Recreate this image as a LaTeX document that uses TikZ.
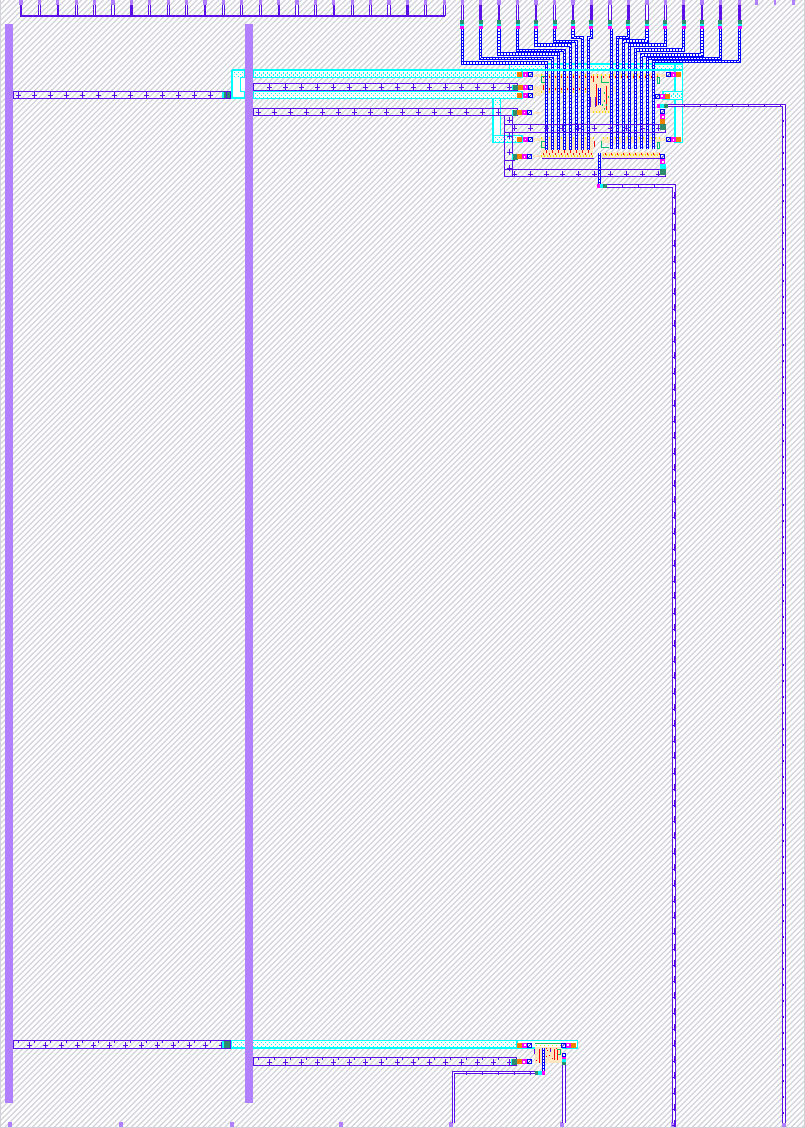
\documentclass[tikz,border=0pt]{standalone}
\definecolor{pd}{HTML}{5A10E6}
\definecolor{pl}{HTML}{B080FF}
\definecolor{hb}{HTML}{D2D2DA}
\definecolor{cr}{HTML}{FDE6C2}
\definecolor{tl}{HTML}{2E8B6B}
\definecolor{og}{HTML}{F08000}
\definecolor{gr}{HTML}{00C070}
\definecolor{yl}{HTML}{F4E000}
\definecolor{cyan}{RGB}{0,255,255}
\definecolor{magenta}{RGB}{255,0,255}
\tikzset{
  hatch/.style={draw=hb,line width=1.25},
  strip/.style={draw=pd,line width=1},
  dbl/.style={draw=pd,line width=1,double=white,double distance=1.3},
  tick/.style={draw=pd,line width=1}
}
\newcommand\lad[1]{\draw[blue,line width=3.4] #1; \draw[white,line width=1.4,dash pattern=on 2 off 1] #1;}
\newcommand\sq[5]{\fill[#1] (#2,#3) rectangle (#4,#5);}
% dotted cyan region: x1 y1 x2 y2
\newcommand\dotband[4]{%
  \fill[white] (#1,#2) rectangle (#3,#4);
  \begin{scope}
    \clip (#1,#2) rectangle (#3,#4);
    \pgfmathsetmacro\ya{#2+1.6}\pgfmathsetmacro\yb{#2+3.6}\pgfmathsetmacro\yc{#2+5.4}
    \pgfmathsetmacro\xa{#1+1.5}\pgfmathsetmacro\xb{#1+5.5}\pgfmathsetmacro\xc{#1+3.5}\pgfmathsetmacro\xd{#1+7.5}
    \foreach \q in {\xa,\xb,...,#3}{\fill[cyan] (\q,\ya) rectangle (\q+1.2,\ya+1.2);\fill[cyan] (\q,\yc) rectangle (\q+1.2,\yc+1.2);}
    \foreach \q in {\xc,\xd,...,#3}{\fill[cyan] (\q,\yb) rectangle (\q+1.2,\yb+1.2);}
  \end{scope}
  \draw[cyan,line width=1.4] (#1,#2) rectangle (#3,#4);}
\newcommand\bxc[2]{\draw[blue,line width=1,fill=white] (#1+.5,#2+.5) rectangle (#1+4.5,#2+4.5); \draw[blue!60!black,line width=.5] (#1+1,#2+4) -- (#1+4,#2+1);}
\newcommand\mgc[2]{\fill[magenta] (#1,#2) rectangle (#1+5,#2+5); \fill[white] (#1+1.6,#2+1.6) rectangle (#1+3.4,#2+3.4);}
\newcommand\ogc[2]{\fill[og] (#1,#2) rectangle (#1+5,#2+5);}
\newcommand\tlc[2]{\fill[tl] (#1,#2) rectangle (#1+5.5,#2+5.5); \fill[cyan] (#1,#2) rectangle (#1+1.2,#2+5.5);}
\newcommand\plusv[2]{\draw[tick] (#1,#2-3.5) -- (#1,#2+3) (#1-2.5,#2) -- (#1+2.5,#2);}
\newcommand\dotrow[5]{\foreach \q in {#1,#2,...,#3}{\fill[#5] (\q,#4) rectangle (\q+1,#4+1.5);}}
\begin{document}
\begin{tikzpicture}[x=1pt,y=-1pt]
\useasboundingbox (0,0) rectangle (805,1128);
\clip (0,0) rectangle (805,1128);
\fill[white] (0,0) rectangle (805,1128);
% background hatching
\foreach \i in {0,5.5,...,1935}{\draw[hatch] (\i,-1) -- (\i-1130,1129);}
\fill[hb] (0,0) rectangle (1,1128);
\fill[hb] (804,0) rectangle (805,1128);
\fill[hb] (0,1127) rectangle (805,1128);
% pale bottom and top pads
\foreach \x in {10,121,232,341,451,562,673,784}{\sq{pl}{\x-1.7}{1122}{\x+1.7}{1127}}
\foreach \a/\b in {755/758,774/776,792/795}{\sq{pl}{\a}{0}{\b}{5}}
% cream diffusion
\sq{cr}{541}{74}{590}{93}
\sq{cr}{590}{74}{610}{113}
\sq{cr}{610}{73}{660}{79}
\sq{cr}{600}{86}{616}{92}
\sq{cr}{541}{137}{593}{158}
\sq{cr}{602}{137}{660}{143}
\sq{cr}{602}{152}{660}{158}
\foreach \a/\b in {74/77,86/96,112/114,138/141,155/157}{\sq{cr}{533}{\a}{541}{\b}}
\foreach \a/\b in {74/77,138/141}{\sq{cr}{659}{\a}{666}{\b}}
% device details
\dotrow{541}{545}{660}{74}{yl}
\dotrow{543}{549}{660}{76}{red}
\dotrow{543}{549}{590}{88}{red}
\dotrow{541}{545}{590}{91}{yl}
\dotrow{541}{545}{593}{137}{yl}
\dotrow{603}{607}{660}{137}{yl}
\dotrow{545}{551}{590}{146}{red}
\dotrow{541}{544}{593}{155}{yl}
\dotrow{603}{606}{659}{154}{yl}
\dotrow{543}{549}{593}{153}{red}
\dotrow{605}{611}{659}{153}{red}
\dotrow{593}{596}{610}{111}{yl}
\draw[gr,line width=1] (546,76) -- (541.5,76) -- (541.5,82) -- (545,82);
\draw[gr,line width=1] (546,141) -- (541.5,141) -- (541.5,147) -- (545,147);
\draw[gr,line width=1] (601.5,76) -- (601.5,82) -- (609,82);
\draw[gr,line width=1] (601.5,141) -- (601.5,147) -- (609,147);
\draw[gr,line width=1] (657.5,77) rectangle (659.5,83);
\draw[gr,line width=1] (657.5,142) rectangle (659.5,148);
\draw[red,line width=1] (593,76) -- (593,82) (596,84) -- (596,106) (606,86) -- (606,110) (543,85) -- (543,90) (594,141) -- (594,147);
\draw[magenta,line width=1] (610,77) -- (610,84) (610,141) -- (610,148);
\draw[pd,line width=1] (590.7,97) -- (590.7,107) (595,97) -- (595,107) (541.5,158.3) -- (593.5,158.3) (602.3,158.3) -- (659.5,158.3);
\foreach \x/\y in {604/92,604/100,606/104,604/108,608/96,602/104}{\sq{gr}{\x}{\y}{\x+1.2}{\y+1.5}}
% cyan bands
\dotband{232}{70.5}{245}{98}
\draw[cyan,line width=1,fill=white] (240,77) rectangle (245,91);
\dotband{253}{70.7}{522}{77.5}
\dotband{253}{91.3}{522}{98.5}
\dotband{493}{98.5}{500.7}{142.7}
\dotband{493}{135.3}{522}{142.7}
\dotband{509.3}{64}{682.7}{70.7}
\dotband{675}{64}{682.7}{142.7}
\dotband{663}{91.7}{682.7}{99.3}
\dotband{231}{1040.5}{517}{1048}
\draw[cyan,line width=1.2,fill=white] (517,1040.5) rectangle (577.3,1048);
\sq{cr}{535}{1047}{561.7}{1062.7}
% ladder wires
\foreach \px/\ly/\wx in {462.3/63/546.7,480.7/58.5/552.7,499/54/558.7,517.7/50.7/564.7,536/45/570.7,554.7/41.7/576.7,573/37.3/582.7}{\lad{(\px,29) -- (\px,\ly) -- (\wx,\ly) -- (\wx,150)}}
\lad{(591.3,29) -- (591.3,37.3) -- (588.7,37.3) -- (588.7,150)}
\lad{(611.3,29) -- (611.3,149)}
\foreach \px/\ly/\wx in {628.3/37.3/617.3,647/41/623.3,665.3/45/629.3,683.7/50/635.3,702/55/641.3,720.3/58.3/647.3,739.7/61.7/653.3}{\lad{(\px,29) -- (\px,\ly) -- (\wx,\ly) -- (\wx,149)}}
\lad{(599.5,88) -- (599.5,105.3)}
\lad{(599.5,153) -- (599.5,184)}
\foreach \a in {546.7,552.7,...,589}{\sq{red}{\a-.5}{150}{\a+.5}{152.5}}
\draw[cyan,line width=1.8] (232,70.3) -- (683,70.3);
% top pins
\foreach \x/\k in {462.3/1,480.7/0,499/0,517.7/1,536/0,554.7/1,573/0,591.3/0,610/1,628.3/0,647/1,665.3/1,683.7/0,702/0,720.3/0,739.7/0}{
  \sq{pl}{\x-1.7}{0}{\x+1.7}{5}
  \ifnum\k=1 \draw[dbl] (\x,5) -- (\x,20); \else \sq{pd}{\x-1.4}{5}{\x+1.4}{20}\fi
  \sq{tl}{\x-2}{20}{\x+2}{24}
  \sq{cyan}{\x-2}{24}{\x+2}{25.7}
  \sq{magenta}{\x-2}{25.7}{\x+2}{29}
}
% top-left comb
\foreach \i/\k in {0/0,1/1,2/0,3/1,4/1,5/1,6/0,7/1,8/1,9/1,10/0,11/1,12/1,13/1,14/0,15/1,16/1,17/0,18/1,19/1,20/1,21/0,22/1,23/1}{
  \pgfmathsetmacro\xx{21+18.4*\i}
  \sq{pl}{\xx-1.6}{0}{\xx+1.6}{5}
  \ifnum\k=1 \draw[dbl] (\xx,5) -- (\xx,16); \else \sq{pd}{\xx-1.1}{5}{\xx+1.1}{16}\fi
}
\draw[pd,line width=2.2] (20,16) -- (444.5,16);
% long strips with crosses
\draw[strip] (13,91.2) rectangle (230.7,98.2);
\foreach \x in {18.3,34.3,...,220}{\plusv{\x}{95}}
\draw[strip] (253,83.3) rectangle (517.7,90.5);
\foreach \x in {269,285,...,510}{\plusv{\x}{87}}
\draw[strip] (253,108.3) rectangle (517,115.5);
\foreach \x in {258.3,274.3,...,510}{\plusv{\x}{112.2}}
\draw[strip] (504.4,124.5) rectangle (665.7,132.5);
\foreach \x in {514.3,530.3,...,660}{\plusv{\x}{128}}
\draw[strip] (504.4,169.2) rectangle (665.7,176.5);
\foreach \x in {514.3,530.3,...,660}{\draw[tick] (\x,171) -- (\x,176) (\x-2.5,174.5) -- (\x+2.5,174.5);}
\draw[strip] (504.4,115.5) rectangle (512.3,176.5);
\draw[strip] (504.4,160.7) -- (514,160.7) (512.3,154) -- (514,154) -- (514,160.7);
\foreach \y in {120,136,152,168}{\plusv{509.3}{\y}}
% bottom strips
\draw[strip] (13,1040.5) rectangle (230.7,1048);
\foreach \x in {29,45,...,222}{\plusv{\x}{1045.3}}
\foreach \x in {18,34,...,215}{\draw[tick] (\x,1040.5) -- (\x,1043);}
\draw[strip] (253,1057.5) rectangle (516.7,1065);
\foreach \x in {269,285,...,510}{\plusv{\x}{1062}}
\foreach \x in {258,274,...,510}{\draw[tick] (\x,1057.5) -- (\x,1060);}
% right and lower routed rails
\draw[dbl] (606,186) -- (674,186) -- (674,1122.5);
\foreach \y in {192,208,...,1120}{\sq{pd}{674}{\y}{675.8}{\y+7} \sq{pd}{672.3}{\y+5}{673.6}{\y+6}}
\foreach \x in {622,638,654}{\sq{pd}{\x}{184}{\x+.8}{188}}
\draw[dbl] (668,105.7) -- (784,105.7) -- (784,1122.5);
\foreach \y in {120,136,...,1120}{\sq{pd}{782.4}{\y}{784}{\y+1.5}}
\foreach \x in {684,700,...,780}{\sq{pd}{\x}{104}{\x+.8}{107.4}}
\draw[dbl] (535,1072.8) -- (453.4,1072.8) -- (453.4,1122.5);
\foreach \y in {1086,1102,1118}{\sq{pd}{453.5}{\y}{455}{\y+1.5}}
\foreach \x in {466,482,...,530}{\sq{pd}{\x}{1071}{\x+.8}{1074.6}}
\draw[dbl] (564,1065) -- (564,1122.5);
\foreach \y in {1076,1092,1108}{\sq{pd}{564.5}{\y}{565.7}{\y+1.5}}
% left contacts
\foreach \y in {72.4,137}{\ogc{517}{\y}\mgc{523}{\y}\bxc{528}{\y}}
\tlc{512.2}{84.6}\ogc{517.7}{84.6}\mgc{523}{84.6}\bxc{528}{84.6}
\ogc{517}{93}\mgc{523}{93}\bxc{528}{93}
\tlc{511.7}{110}\ogc{517}{110}\mgc{522}{110}\bxc{527}{110}
\tlc{512}{154.2}\ogc{517}{154.2}\mgc{522}{154.2}\bxc{527}{154.2}
% right contacts
\foreach \y in {72.4,137.3}{\bxc{666}{\y}\mgc{671}{\y}\ogc{676}{\y}}
\bxc{655}{93.7}\mgc{659.5}{93.7}\ogc{664.5}{93.7}
\sq{magenta}{656.7}{104}{660}{107.7}\sq{cyan}{660}{104}{664}{107.7}\sq{tl}{664}{104}{668.4}{107.7}
\bxc{660.2}{109.3}\mgc{660.2}{114.3}\ogc{660.2}{119.3}\sq{tl}{660.2}{124.3}{665.8}{130}
\bxc{660.2}{154.3}\mgc{660.2}{159.3}\sq{cyan}{660.2}{164.3}{665.7}{169.3}\sq{tl}{660.2}{169.3}{665.8}{175}
\sq{magenta}{597.3}{184}{600}{187.7}\sq{cyan}{600}{184}{603.4}{187.7}\sq{tl}{603.4}{184}{607}{187.7}
% left rail teal
\sq{tl}{222.3}{91.2}{230.7}{98.2}\sq{cyan}{222.3}{91.7}{224}{97.7}\draw[pd,line width=1] (223,91.2) -- (230.7,91.2) -- (230.7,98.2) -- (223,98.2) (226.5,91.2) -- (226.5,98.2);
\sq{tl}{222.3}{1040.5}{230.7}{1048}\sq{cyan}{222.3}{1041}{224}{1047.5}\draw[pd,line width=1] (223,1040.5) -- (230.7,1040.5) -- (230.7,1048) -- (223,1048);
% big rails
\sq{pl}{5}{24}{13}{1103}
\sq{pl}{245}{24}{253}{1103}
% bottom cell
\dotrow{536}{540}{561}{1044.5}{yl}
\draw[gr,line width=1] (535,1043) -- (561,1043);
\draw[gr,line width=1] (557,1049) -- (560.5,1049) -- (560.5,1054) -- (557,1054);
\lad{(543.5,1048) -- (543.5,1071)}
\draw[red,line width=1] (539.8,1049) -- (539.8,1063) (554.5,1049) -- (554.5,1060) (557.6,1050) -- (557.6,1060);
\draw[pd,line width=1] (534.5,1049) -- (534.5,1054) (550,1049) -- (550,1052);
\foreach \x/\y in {547/1050,549/1055,546/1056,535.5/1060,552/1058,545.5/1047.5,550/1047.5,556/1047.5}{\sq{red}{\x}{\y}{\x+1}{\y+1.2}}
\ogc{517.2}{1042.7}\mgc{522.3}{1042.7}\bxc{527.3}{1042.7}
\bxc{560.7}{1042.7}\mgc{565.7}{1042.7}\ogc{570.7}{1042.7}
\tlc{511}{1059.3}\ogc{516.7}{1059.3}\mgc{521.7}{1059.3}\bxc{526.7}{1059.3}
\sq{tl}{535}{1071}{538.3}{1074.7}\sq{cyan}{538.3}{1071}{541.7}{1074.7}\sq{magenta}{541.7}{1071}{545}{1074.7}
\draw[blue,line width=1,fill=white] (562.8,1053.6) rectangle (565.4,1056.6);
\sq{magenta}{562.3}{1056.7}{565.7}{1059.3}\sq{cyan}{562.3}{1059.3}{565.7}{1062.3}\sq{tl}{562.3}{1062.3}{565.7}{1065}
\end{tikzpicture}
\end{document}
